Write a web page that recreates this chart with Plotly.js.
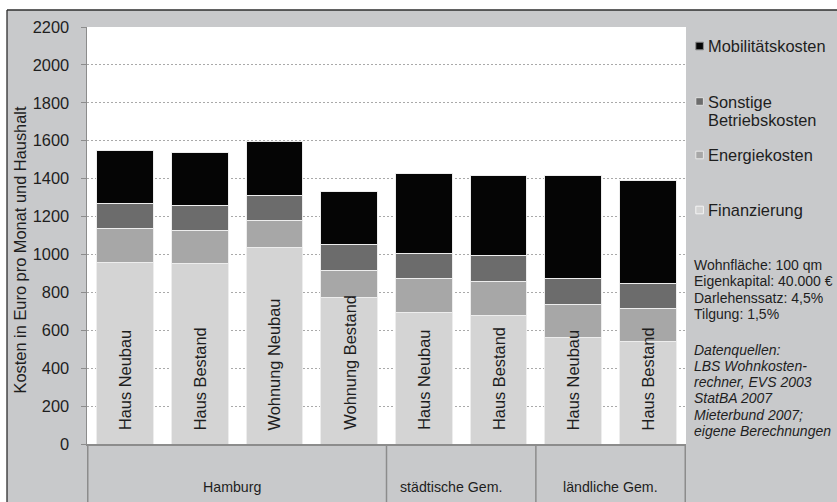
<!DOCTYPE html>
<html>
<head>
<meta charset="utf-8">
<script src="https://cdn.plot.ly/plotly-3.0.1.min.js"></script>
<style>
  html, body { margin: 0; padding: 0; background: #ffffff; }
  #chart { width: 837px; height: 502px; }
</style>
</head>
<body>
<div id="chart"></div>
<script>
// Monthly housing + mobility costs per household, stacked by cost type
const groups = ['Hamburg', 'Hamburg', 'Hamburg', 'Hamburg',
                'städtische Gem.', 'städtische Gem.',
                'ländliche Gem.', 'ländliche Gem.'];
const housingTypes = ['Haus Neubau', 'Haus Bestand', 'Wohnung Neubau', 'Wohnung Bestand',
                      'Haus Neubau', 'Haus Bestand', 'Haus Neubau', 'Haus Bestand'];

const finanzierung   = [960, 950, 1037, 775, 693, 680, 562, 541];
const energiekosten  = [178, 177, 143, 143, 178, 177, 176, 176];
const betriebskosten = [132, 132, 132, 136, 135, 135, 133, 131];
const mobilitaet     = [280, 280, 282, 277, 422, 422, 543, 543];

const seriesNames  = ['Finanzierung', 'Energiekosten', 'Sonstige Betriebskosten', 'Mobilitätskosten'];
const seriesColors = ['#d4d4d4', '#a7a7a7', '#6c6c6c', '#050505'];
const legendLines  = [['Finanzierung'], ['Energiekosten'], ['Sonstige', 'Betriebskosten'], ['Mobilitätskosten']];

const yTickVals = [0, 200, 400, 600, 800, 1000, 1200, 1400, 1600, 1800, 2000, 2200];
const yTitle = 'Kosten in Euro pro Monat und Haushalt';

const assumptions = ['Wohnfläche: 100 qm', 'Eigenkapital: 40.000 €', 'Darlehenssatz: 4,5%', 'Tilgung: 1,5%'];
const sources = ['Datenquellen:', 'LBS Wohnkosten-', 'rechner, EVS 2003', 'StatBA 2007',
                 'Mieterbund 2007;', 'eigene Berechnungen'];

// ---- page geometry -------------------------------------------------------
const W = 837, H = 502;
const M = { l: 87, r: 151, t: 27, b: 58 };
const PW = W - M.l - M.r, PH = H - M.t - M.b;
const px2x = px => (px - M.l) / PW;          // pixel column -> paper x
const py2y = py => (H - M.b - py) / PH;      // pixel row    -> paper y

const FONT = '"Liberation Sans", Arial, sans-serif';
const TEXT = '#1e1e1e';
const PANEL = '#c8c9cb';
const AXIS = '#8c8c8c';

const cats = housingTypes.map((t, i) => groups[i] + ' / ' + t);
const values = [finanzierung, energiekosten, betriebskosten, mobilitaet];

const traces = values.map((v, k) => ({
  type: 'bar',
  name: seriesNames[k],
  x: cats,
  y: v,
  marker: { color: seriesColors[k], line: { color: '#ededed', width: 1 } },
  showlegend: false,
  hoverinfo: 'skip'
}));

const annotations = [];
const shapes = [];

// white margin outside the framed panel, and the frame itself
shapes.push({ type: 'rect', xref: 'paper', yref: 'paper', layer: 'above',
  x0: px2x(0), x1: px2x(W), y0: py2y(0), y1: py2y(10),
  fillcolor: '#ffffff', line: { width: 0 } });
shapes.push({ type: 'rect', xref: 'paper', yref: 'paper', layer: 'above',
  x0: px2x(0), x1: px2x(7), y0: py2y(0), y1: py2y(H),
  fillcolor: '#ffffff', line: { width: 0 } });
shapes.push({ type: 'line', xref: 'paper', yref: 'paper', layer: 'above',
  x0: px2x(7), x1: px2x(W + 2), y0: py2y(10), y1: py2y(10),
  line: { color: '#2e2e2e', width: 1.3 } });
shapes.push({ type: 'line', xref: 'paper', yref: 'paper', layer: 'above',
  x0: px2x(7), x1: px2x(7), y0: py2y(10), y1: py2y(H + 2),
  line: { color: '#2e2e2e', width: 1.3 } });

// housing type written upright inside each bar
housingTypes.forEach((t, i) => {
  annotations.push({ xref: 'x', yref: 'y', x: i, y: 0, text: t, textangle: -90,
    xanchor: 'center', yanchor: 'bottom', yshift: 12, showarrow: false,
    font: { family: FONT, size: 16.4, color: TEXT } });
});

// group labels and dividers under the category axis
const groupNames = [...new Set(groups)];
const groupShift = { 'Hamburg': -5, 'städtische Gem.': -10, 'ländliche Gem.': 0 };
groupNames.forEach(g => {
  const first = groups.indexOf(g), last = groups.lastIndexOf(g);
  annotations.push({ xref: 'x', yref: 'paper', x: (first + last) / 2, y: py2y(487),
    text: g, showarrow: false, xanchor: 'center', yanchor: 'middle', xshift: groupShift[g],
    font: { family: FONT, size: 14.2, color: TEXT } });
  shapes.push({ type: 'line', xref: 'x', yref: 'paper', x0: first - 0.5, x1: first - 0.5,
    y0: 0, y1: py2y(H + 2), line: { color: AXIS, width: 1.5 } });
});
shapes.push({ type: 'line', xref: 'x', yref: 'paper', x0: cats.length - 0.5, x1: cats.length - 0.5,
  y0: 0, y1: py2y(H + 2), line: { color: AXIS, width: 1.5 } });

// legend: squares and labels at the right
const legendRows = { 'Mobilitätskosten': 46, 'Sonstige Betriebskosten': 101.5,
                     'Energiekosten': 155, 'Finanzierung': 210 };
const legendEdge = ['#f4f4f4', '#e8e8e8', '#e0e0e0', '#8a8a8a'];
seriesNames.forEach((n, k) => {
  const cy = legendRows[n];
  shapes.push({ type: 'rect', xref: 'paper', yref: 'paper',
    x0: px2x(695.8), x1: px2x(703.4), y0: py2y(cy - 3.8), y1: py2y(cy + 3.8),
    fillcolor: seriesColors[k], line: { color: legendEdge[k], width: 1 } });
  legendLines[k].forEach((line, j) => {
    annotations.push({ xref: 'paper', yref: 'paper', x: px2x(706), y: py2y(cy + j * 18.3),
      text: line, showarrow: false, xanchor: 'left', yanchor: 'middle',
      font: { family: FONT, size: 16.4, color: TEXT } });
  });
});

// model assumptions and data sources
assumptions.forEach((line, j) => {
  annotations.push({ xref: 'paper', yref: 'paper', x: px2x(691.5), y: py2y(265 + j * 16.4),
    text: line, showarrow: false, xanchor: 'left', yanchor: 'middle',
    font: { family: FONT, size: 14, color: TEXT } });
});
sources.forEach((line, j) => {
  annotations.push({ xref: 'paper', yref: 'paper', x: px2x(691.5), y: py2y(349.5 + j * 16.3),
    text: '<i>' + line + '</i>', showarrow: false, xanchor: 'left', yanchor: 'middle',
    font: { family: FONT, size: 14, color: TEXT } });
});

// y axis title
annotations.push({ xref: 'paper', yref: 'paper', x: px2x(19.5), y: py2y(250),
  text: yTitle, textangle: -90, showarrow: false, xanchor: 'center', yanchor: 'middle',
  font: { family: FONT, size: 16.4, color: TEXT } });

const layout = {
  width: W, height: H,
  margin: M,
  paper_bgcolor: PANEL,
  plot_bgcolor: '#ffffff',
  barmode: 'stack',
  bargap: 0.24,
  showlegend: false,
  font: { family: FONT, color: TEXT, size: 16.4 },
  xaxis: {
    type: 'category',
    showticklabels: false, ticks: '',
    showgrid: false, zeroline: false,
    showline: true, linecolor: AXIS, linewidth: 1.5,
    fixedrange: true
  },
  yaxis: {
    range: [0, 2200],
    tickvals: yTickVals,
    ticktext: yTickVals.map(String),
    ticks: 'outside', ticklen: 5, tickcolor: AXIS, tickwidth: 1,
    ticklabelstandoff: 8,
    tickfont: { family: FONT, size: 16.4, color: TEXT },
    showline: true, linecolor: AXIS, linewidth: 1.5,
    showgrid: true, gridcolor: '#a9a9a9', gridwidth: 1, griddash: '2px,2px',
    zeroline: false,
    fixedrange: true
  },
  annotations: annotations,
  shapes: shapes
};

Plotly.newPlot('chart', traces, layout, { staticPlot: true, displayModeBar: false });
</script>
</body>
</html>
